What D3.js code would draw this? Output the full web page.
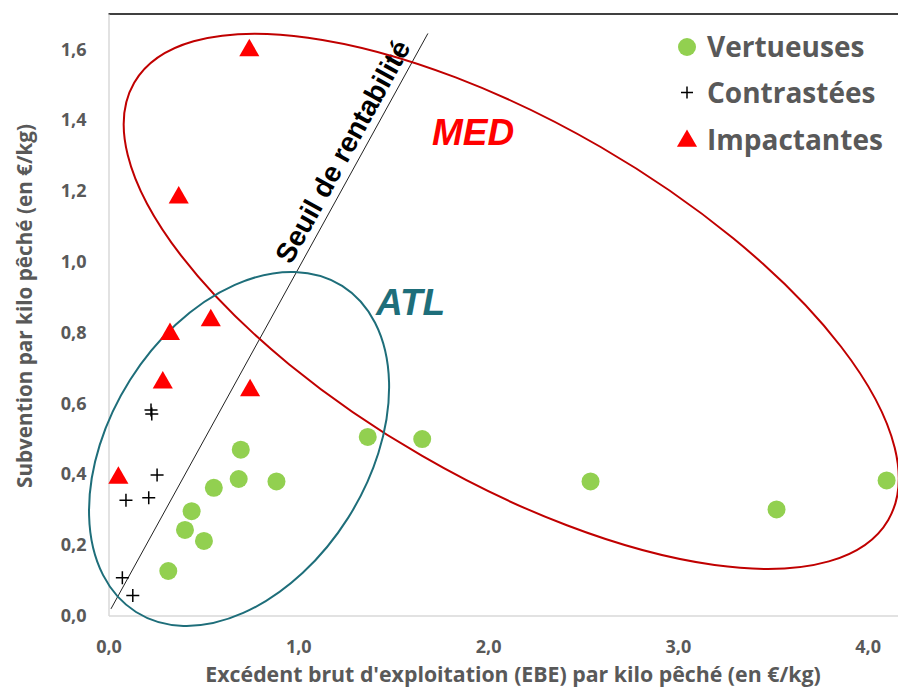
<!DOCTYPE html>
<html><head><meta charset="utf-8">
<script src="https://cdn.jsdelivr.net/npm/d3@7"></script>
<style>
html,body{margin:0;padding:0;background:#fff;}
svg{display:block;}
</style></head>
<body>
<svg id="chart" width="898" height="688"></svg>
<script>
// ---- Data ----
const vertueusesX = [0.315, 0.403, 0.438, 0.503, 0.555, 0.697, 0.686, 0.885, 1.366, 1.653, 2.54, 3.52, 4.10];
const vertueusesY = [0.126, 0.242, 0.295, 0.211, 0.361, 0.469, 0.386, 0.379, 0.505, 0.499, 0.379, 0.300, 0.382];
const contrasteesX = [0.224, 0.228, 0.256, 0.092, 0.212, 0.073, 0.128];
const contrasteesY = [0.581, 0.570, 0.397, 0.326, 0.333, 0.107, 0.057];
const impactantesX = [0.052, 0.286, 0.746, 0.742, 0.370, 0.539, 0.324];
const impactantesY = [0.392, 0.661, 0.639, 1.600, 1.184, 0.837, 0.798];
const seuilX = [0.013, 1.683];
const seuilY = [0.019, 1.645];
const xTicks = [0, 1, 2, 3, 4];
const yTicks = [0, 0.2, 0.4, 0.6, 0.8, 1.0, 1.2, 1.4, 1.6];
const legendLabels = ["Vertueuses", "Contrastées", "Impactantes"];
const groupLabels = ["MED", "ATL"];

// ---- Setup ----
const svg = d3.select("#chart");
const mLeft = 108.5, mRight = 898, mTop = 14, mBottom = 615.6;
const x = d3.scaleLinear().domain([0, 4.16]).range([mLeft, mRight]);
const y = d3.scaleLinear().domain([0, 1.7]).range([mBottom, mTop]);
const fmt = d => d3.format(".1f")(d).replace(".", ",");
const gray = "#595959";
const font = "'Open Sans', sans-serif";

// top border
svg.append("line").attr("x1", mLeft).attr("x2", mRight).attr("y1", mTop).attr("y2", mTop)
  .attr("stroke", "#404040").attr("stroke-width", 2);

// axes
const gx = svg.append("g").attr("transform", `translate(0,${mBottom})`)
  .call(d3.axisBottom(x).tickValues(xTicks).tickFormat(fmt).tickSize(0).tickPadding(24.5));
const gy = svg.append("g").attr("transform", `translate(${mLeft},0)`)
  .call(d3.axisLeft(y).tickValues(yTicks).tickFormat(fmt).tickSize(0).tickPadding(22));
[gx, gy].forEach(g => {
  g.select(".domain").attr("stroke", "#D9D9D9").attr("stroke-width", 1.5);
  g.selectAll("text").attr("fill", gray).style("font-family", font)
    .style("font-weight", "bold").style("font-size", "18px");
});

// axis titles
svg.append("text").attr("x", 513).attr("y", 682)
  .attr("text-anchor", "middle").attr("fill", gray)
  .style("font-family", font).style("font-weight", "bold").style("font-size", "21.3px")
  .text("Excédent brut d'exploitation (EBE) par kilo pêché (en €/kg)");
svg.append("text").attr("transform", "translate(32,306) rotate(-90)")
  .attr("text-anchor", "middle").attr("fill", gray)
  .style("font-family", font).style("font-weight", "bold").style("font-size", "20.7px")
  .text("Subvention par kilo pêché (en €/kg)");

// seuil de rentabilité line
const seuil = seuilX.map((v, i) => [v, seuilY[i]]);
svg.append("path")
  .attr("d", d3.line().x(d => x(d[0])).y(d => y(d[1]))(seuil))
  .attr("stroke", "#222").attr("stroke-width", 1).attr("fill", "none");
{
  const x0 = x(seuil[0][0]), y0 = y(seuil[0][1]), x1 = x(seuil[1][0]), y1 = y(seuil[1][1]);
  const ang = Math.atan2(y1 - y0, x1 - x0) * 180 / Math.PI;
  const t = 0.78;
  const px = x0 + (x1 - x0) * t, py = y0 + (y1 - y0) * t;
  const len = Math.hypot(x1 - x0, y1 - y0);
  const nx = (y1 - y0) / len, ny = -(x1 - x0) / len;
  const off = 8;
  svg.append("text")
    .attr("transform", `translate(${px + nx * off},${py + ny * off}) rotate(${ang})`)
    .attr("text-anchor", "middle").attr("fill", "#000")
    .style("font-family", "'Liberation Sans', Arial, sans-serif").style("font-weight", "bold")
    .style("font-size", "28px")
    .text("Seuil de rentabilité");
}

// ellipses (annotations)
svg.append("ellipse")
  .attr("transform", `translate(${x(2.122)},${y(0.888)}) rotate(30.1)`)
  .attr("rx", 435.8).attr("ry", 178.4)
  .attr("fill", "none").attr("stroke", "#C00000").attr("stroke-width", 2);
svg.append("ellipse")
  .attr("transform", `translate(${x(0.688)},${y(0.471)}) rotate(-57.7)`)
  .attr("rx", 192.9).attr("ry", 129)
  .attr("fill", "none").attr("stroke", "#1E6E7A").attr("stroke-width", 2);

svg.append("text").attr("x", 432).attr("y", 145)
  .attr("fill", "#FF0000")
  .style("font-family", "'Liberation Sans', Arial, sans-serif").style("font-weight", "bold")
  .style("font-style", "italic").style("font-size", "37px").text(groupLabels[0]);
svg.append("text").attr("x", 376).attr("y", 315)
  .attr("fill", "#1E6E7A")
  .style("font-family", "'Liberation Sans', Arial, sans-serif").style("font-weight", "bold")
  .style("font-style", "italic").style("font-size", "37px").text(groupLabels[1]);

// points
const green = "#92D050", red = "#FF0000";
svg.append("g").selectAll("circle")
  .data(vertueusesX.map((v, i) => [v, vertueusesY[i]]))
  .join("circle").attr("cx", d => x(d[0])).attr("cy", d => y(d[1])).attr("r", 9)
  .attr("fill", green);

const plus = (cx, cy, s) => `M${cx - s},${cy}H${cx + s}M${cx},${cy - s}V${cy + s}`;
svg.append("g").selectAll("path")
  .data(contrasteesX.map((v, i) => [v, contrasteesY[i]]))
  .join("path").attr("d", d => plus(x(d[0]), y(d[1]), 6.5))
  .attr("stroke", "#000").attr("stroke-width", 1.5).attr("fill", "none");

const tri = d3.symbol().type(d3.symbolTriangle).size(175);
svg.append("g").selectAll("path")
  .data(impactantesX.map((v, i) => [v, impactantesY[i]]))
  .join("path").attr("d", tri)
  .attr("transform", d => `translate(${x(d[0])},${y(d[1]) + 1})`)
  .attr("fill", red);

// legend
const lg = svg.append("g");
const lx = 687, ly0 = 47, ldy = 46.5;
lg.append("circle").attr("cx", lx).attr("cy", ly0).attr("r", 9).attr("fill", green);
lg.append("path").attr("d", plus(lx, ly0 + ldy - 1, 6)).attr("stroke", "#000").attr("stroke-width", 1.5);
lg.append("path").attr("d", tri).attr("transform", `translate(${lx},${ly0 + 2 * ldy + 1})`).attr("fill", red);
legendLabels.forEach((t, i) => {
  lg.append("text").attr("x", 707).attr("y", ly0 + i * ldy).attr("dy", "0.35em")
    .attr("fill", gray).style("font-family", font).style("font-weight", "bold")
    .style("font-size", "28px").text(t);
});
</script>
</body></html>
